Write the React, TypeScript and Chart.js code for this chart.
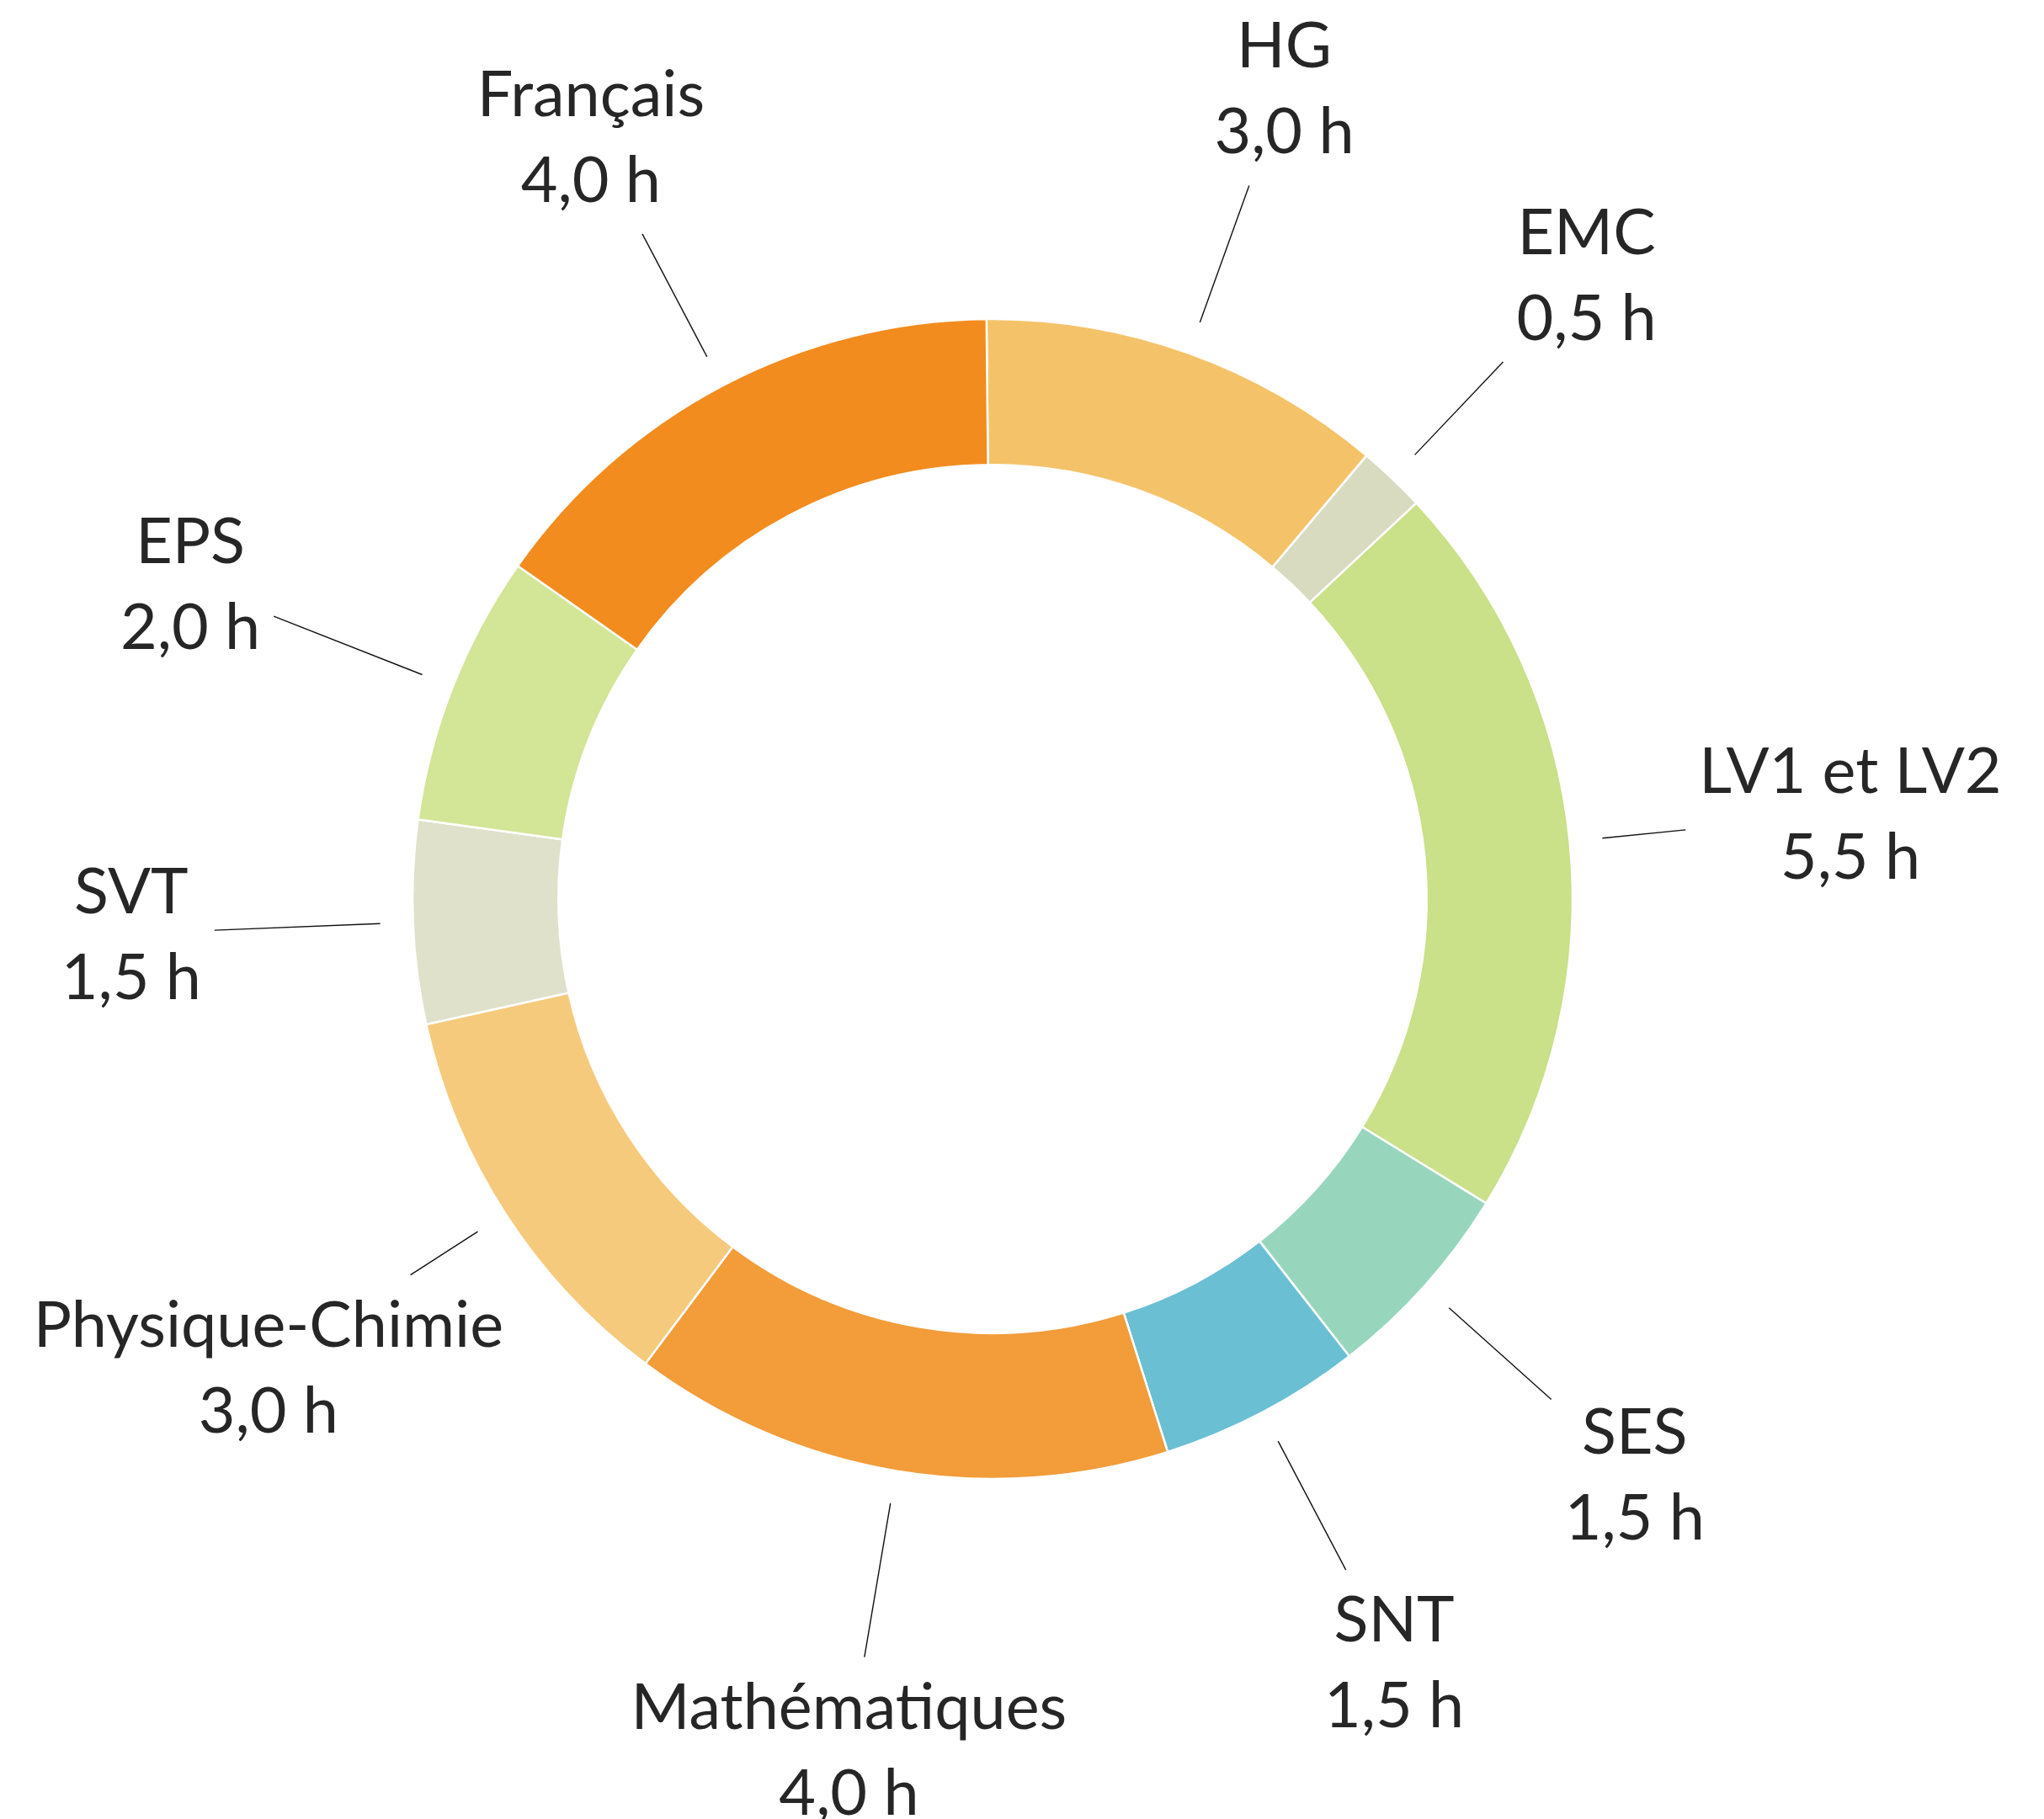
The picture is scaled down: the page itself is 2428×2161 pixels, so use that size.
import React, { useEffect, useRef } from "react";
import { Chart, registerables } from "chart.js";

Chart.register(...registerables);

const subjects = ["HG", "EMC", "LV1 et LV2", "SES", "SNT", "Mathématiques", "Physique-Chimie", "SVT", "EPS", "Français"];
const hours = [3, 0.5, 5.5, 1.5, 1.5, 4, 3, 1.5, 2, 4];
const sliceColors = ["#F4C369", "#D9DBC1", "#CAE089", "#97D6BD", "#6ABFD3", "#F29C3A", "#F5CA7D", "#DFE1CB", "#D3E597", "#F28C1F"];

const FONT_SIZE = 75.5;
const LINE_GAP = 102;
const CAP_H = 54;
const LABEL_R = 1024;
const LINE_START_R = 728;

const formatHours = (v: number) => v.toFixed(1).replace(".", ",") + " h";

const labelPlugin = {
  id: "outerLabels",
  afterDraw(chart: any) {
    const ctx = chart.ctx;
    const meta = chart.getDatasetMeta(0);
    ctx.save();
    ctx.font = `${FONT_SIZE}px Lato`;
    ctx.textAlign = "center";
    ctx.textBaseline = "alphabetic";
    meta.data.forEach((arc: any, i: number) => {
      const p = arc.getProps(["x", "y", "startAngle", "endAngle"], true);
      const mid = (p.startAngle + p.endAngle) / 2;
      const cos = Math.cos(mid);
      const sin = Math.sin(mid);
      const cx = p.x + cos * LABEL_R;
      const cy = p.y + sin * LABEL_R;
      const l1 = subjects[i];
      const l2 = formatHours(hours[i]);
      const blockH = CAP_H + LINE_GAP;
      const b1 = cy - blockH / 2 + CAP_H;
      const b2 = b1 + LINE_GAP;
      ctx.fillStyle = "#262626";
      ctx.fillText(l1, cx, b1);
      ctx.fillText(l2, cx, b2);
      const w = Math.max(ctx.measureText(l1).width, ctx.measureText(l2).width);
      const hw = w / 2 + 16;
      const dx = -cos;
      const dy = -sin;
      const tx = Math.abs(dx) > 1e-6 ? hw / Math.abs(dx) : Infinity;
      const vExt = dy > 0 ? blockH / 2 + 38 : blockH / 2 + 31;
      const ty = Math.abs(dy) > 1e-6 ? vExt / Math.abs(dy) : Infinity;
      const t = Math.min(tx, ty);
      const ex = cx + dx * t;
      const ey = cy + dy * t;
      ctx.beginPath();
      ctx.moveTo(p.x + cos * LINE_START_R, p.y + sin * LINE_START_R);
      ctx.lineTo(ex, ey);
      ctx.strokeStyle = "#111";
      ctx.lineWidth = 1.4;
      ctx.stroke();
    });
    ctx.restore();
  },
};

export default function App() {
  const ref = useRef<HTMLCanvasElement>(null);
  useEffect(() => {
    if (!ref.current) return;
    const chart = new Chart(ref.current, {
      type: "doughnut",
      data: {
        labels: subjects,
        datasets: [
          {
            data: hours,
            backgroundColor: sliceColors,
            borderColor: "#ffffff",
            borderWidth: 2.5,
            hoverOffset: 0,
          },
        ],
      },
      options: {
        responsive: false,
        animation: false,
        devicePixelRatio: 1,
        rotation: -0.6,
        radius: 689,
        cutout: "74.85%",
        layout: { padding: { left: 0, top: 0, right: 70, bottom: 25 } },
        plugins: {
          legend: { display: false },
          tooltip: { enabled: false },
        },
        events: [],
      },
      plugins: [labelPlugin],
    });
    return () => chart.destroy();
  }, []);
  return (
    <canvas
      ref={ref}
      width={2428}
      height={2161}
      style={{ display: "block", position: "fixed", left: 0, top: 0, width: 2428, height: 2161 }}
    />
  );
}
